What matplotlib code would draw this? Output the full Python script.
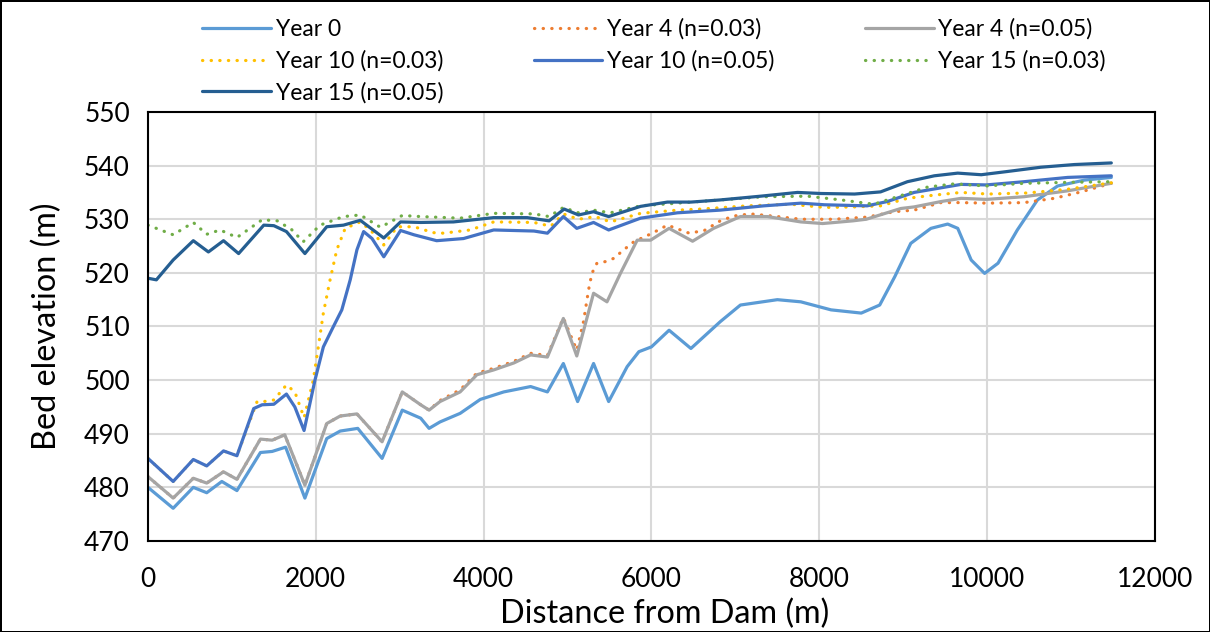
import matplotlib
matplotlib.use('Agg')
import matplotlib.pyplot as plt

plt.rcParams['font.family'] = ['Lato', 'DejaVu Sans']

# Year 0
x0 = [0, 300, 540, 700, 880, 1060, 1340, 1480, 1640, 1870, 2130, 2290, 2500, 2790, 3030, 3250,
      3350, 3480, 3720, 3960, 4240, 4560, 4760, 4950, 5120, 5310, 5490, 5710, 5850, 6000, 6210,
      6470, 6820, 7060, 7500, 7780, 8140, 8500, 8720, 8900, 9090, 9330, 9530, 9650, 9810, 9970,
      10130, 10360, 10600, 10840, 11160, 11480]
y0 = [480.0, 476.1, 480.0, 479.0, 481.1, 479.4, 486.5, 486.7, 487.5, 478.0, 489.1, 490.5, 491.0,
      485.4, 494.4, 492.9, 491.0, 492.2, 493.8, 496.4, 497.8, 498.8, 497.8, 503.1, 496.0, 503.1,
      496.0, 502.5, 505.3, 506.2, 509.3, 505.9, 510.9, 514.0, 515.0, 514.6, 513.1, 512.5, 514.0,
      519.3, 525.5, 528.3, 529.1, 528.3, 522.4, 519.9, 521.8, 528.0, 533.6, 536.2, 537.3, 537.8]

# Year 4 (n=0.03)
x4a = [0, 300, 540, 700, 900, 1060, 1340, 1480, 1630, 1870, 2130, 2290, 2490, 2790, 3030, 3250,
       3350, 3480, 3720, 3920, 4120, 4360, 4560, 4760, 4950, 5110, 5190, 5250, 5290, 5350, 5450,
       5550, 5670, 5790, 6010, 6190, 6450, 6630, 6820, 6980, 7180, 7500, 7780, 8180, 8570, 8890,
       9130, 9450, 9690, 10010, 10440, 10800, 11120, 11480]
y4a = [482.0, 478.0, 481.7, 480.8, 482.9, 481.5, 489.0, 488.8, 489.8, 480.4, 491.9, 493.3, 493.7,
       488.5, 497.8, 495.4, 494.4, 496.2, 498.2, 501.3, 502.2, 503.5, 505.0, 504.6, 511.6, 505.6,
       510.9, 516.8, 519.9, 521.8, 522.1, 522.7, 524.3, 525.8, 527.4, 528.9, 527.4, 527.9, 529.7,
       530.6, 531.0, 530.5, 530.0, 530.0, 530.4, 531.4, 531.7, 533.1, 533.1, 533.0, 533.1, 533.9,
       535.1, 536.7]

# Year 4 (n=0.05)
x4b = [0, 300, 540, 700, 900, 1060, 1340, 1480, 1630, 1870, 2130, 2290, 2490, 2790, 3030, 3250,
       3350, 3480, 3720, 3920, 4120, 4360, 4560, 4760, 4950, 5110, 5310, 5470, 5630, 5830, 5990,
       6210, 6490, 6740, 7060, 7380, 7780, 8040, 8400, 8560, 8970, 9130, 9450, 9690, 9990, 10440,
       10960, 11480]
y4b = [482.0, 478.0, 481.7, 480.8, 482.9, 481.5, 489.0, 488.8, 489.8, 480.4, 491.9, 493.3, 493.7,
       488.5, 497.8, 495.4, 494.4, 496.0, 497.8, 501.0, 501.9, 503.2, 504.7, 504.3, 511.5, 504.5,
       516.2, 514.6, 519.9, 526.1, 526.1, 528.3, 525.9, 528.3, 530.5, 530.5, 529.5, 529.2, 529.7,
       530.0, 532.0, 532.3, 533.3, 533.9, 533.7, 534.2, 535.3, 536.7]

# Year 10 (n=0.03)
x10a = [0, 300, 540, 700, 900, 1060, 1300, 1380, 1500, 1650, 1750, 1860, 1970, 2030, 2090, 2170,
        2250, 2350, 2530, 2650, 2810, 2970, 3170, 3400, 3520, 3840, 4120, 4600, 4800, 4950, 5130,
        5330, 5510, 5870, 6310, 6590, 7140, 7660, 8060, 8420, 8730, 9050, 9370, 9690, 10010,
        10480, 10960, 11480]
y10a = [485.4, 481.1, 485.2, 484.0, 486.8, 485.9, 496.0, 496.0, 496.3, 499.1, 497.8, 493.0, 500.0,
        506.2, 512.5, 518.7, 524.3, 528.3, 529.5, 528.0, 525.2, 528.6, 528.6, 527.5, 527.4, 528.0,
        529.5, 529.4, 528.7, 531.0, 530.0, 530.5, 529.5, 531.1, 531.7, 531.9, 532.5, 532.8, 532.2,
        532.3, 532.5, 533.9, 534.5, 535.0, 534.7, 534.9, 535.6, 536.8]

# Year 10 (n=0.05)
x10b = [0, 300, 540, 700, 900, 1060, 1260, 1360, 1500, 1650, 1750, 1860, 1990, 2090, 2210, 2310,
        2410, 2490, 2570, 2670, 2810, 3010, 3170, 3440, 3760, 4120, 4600, 4760, 4950, 5110, 5310,
        5490, 5870, 6310, 6820, 7340, 7780, 8060, 8570, 8810, 9130, 9690, 9990, 10440, 10960, 11480]
y10b = [485.4, 481.1, 485.2, 484.0, 486.8, 485.9, 494.7, 495.4, 495.5, 497.4, 495.0, 490.6, 500.0,
        506.2, 510.0, 513.1, 518.7, 524.3, 527.7, 526.4, 523.0, 527.9, 527.1, 526.0, 526.4, 528.0,
        527.8, 527.4, 530.5, 528.3, 529.4, 528.0, 530.2, 531.2, 531.7, 532.5, 533.0, 532.7, 532.5,
        533.3, 535.0, 536.5, 536.4, 537.0, 537.8, 538.1]

# Year 15 (n=0.03)
x15a = [0, 300, 540, 700, 860, 1060, 1360, 1540, 1710, 1850, 2050, 2330, 2530, 2770, 3030, 3250,
        3720, 4120, 4600, 4780, 4950, 5130, 5310, 5510, 5870, 6310, 6820, 7340, 7860, 8260, 8650,
        8930, 9290, 9610, 9990, 10440, 11040, 11480]
y15a = [528.9, 527.1, 529.4, 527.2, 528.0, 526.6, 529.9, 529.7, 528.1, 525.8, 528.9, 530.5, 530.8,
        528.5, 530.7, 530.5, 530.2, 531.1, 531.0, 530.5, 532.2, 531.2, 531.7, 531.2, 532.5, 533.0,
        533.6, 534.2, 534.3, 533.6, 532.8, 534.2, 536.0, 536.6, 536.2, 536.7, 536.9, 537.0]

# Year 15 (n=0.05)
x15b = [0, 100, 300, 540, 720, 900, 1080, 1380, 1500, 1650, 1870, 2130, 2330, 2530, 2810, 3010,
        3250, 3640, 4120, 4520, 4780, 4960, 5130, 5310, 5490, 5870, 6190, 6470, 6820, 7300, 7740,
        8020, 8420, 8730, 9050, 9370, 9650, 9930, 10240, 10640, 11040, 11480]
y15b = [519.0, 518.7, 522.4, 526.0, 523.9, 526.0, 523.6, 528.9, 528.8, 527.7, 523.6, 528.6, 528.9,
        529.8, 526.5, 529.5, 529.4, 529.5, 530.3, 530.3, 529.7, 531.9, 530.8, 531.4, 530.5, 532.4,
        533.2, 533.2, 533.6, 534.3, 535.0, 534.8, 534.7, 535.1, 537.0, 538.1, 538.6, 538.3, 538.9,
        539.7, 540.2, 540.5]

dots = (0, (0.1, 2.6))
series = [
    (x0, y0, 'Year 0', '#5B9BD5', '-'),
    (x4a, y4a, 'Year 4 (n=0.03)', '#ED7D31', dots),
    (x4b, y4b, 'Year 4 (n=0.05)', '#A5A5A5', '-'),
    (x10a, y10a, 'Year 10 (n=0.03)', '#FFC000', dots),
    (x10b, y10b, 'Year 10 (n=0.05)', '#4472C4', '-'),
    (x15a, y15a, 'Year 15 (n=0.03)', '#70AD47', dots),
    (x15b, y15b, 'Year 15 (n=0.05)', '#255E91', '-'),
]

fig = plt.figure(figsize=(12.1, 6.32), dpi=100)
fig.patch.set_edgecolor('black')
fig.patch.set_linewidth(2)
ax = fig.add_axes([0.1223, 0.144, 0.8322, 0.6788])

lines = []
for x, y, name, color, ls in series:
    ln, = ax.plot(x, y, color=color, linestyle=ls, linewidth=2.3, label=name,
                  solid_capstyle='round', dash_capstyle='round', solid_joinstyle='round')
    lines.append(ln)

ax.set_xlim(0, 12000)
ax.set_ylim(470, 550)
ax.set_xticks(range(0, 12001, 2000))
ax.set_yticks(range(470, 551, 10))
ax.grid(True, color='#D9D9D9', linewidth=1.5)
ax.set_axisbelow(True)
for s in ax.spines.values():
    s.set_color('black')
    s.set_linewidth(1.5)
ax.tick_params(length=0, labelsize=19)
ax.tick_params(axis='x', pad=19)
ax.tick_params(axis='y', pad=13)
ax.set_xlabel('Distance from Dam (m)', fontsize=23.3, labelpad=2)
ax.xaxis.set_label_coords(0.513, -0.135)
ax.set_ylabel('Bed elevation (m)', fontsize=23.3, labelpad=16)

# legend reads row by row in the reference; matplotlib fills columns first
order = [0, 3, 6, 1, 4, 2, 5]
fig.legend([lines[i] for i in order], [series[i][2] for i in order],
           loc='upper left', bbox_to_anchor=(0.152, 1.0), ncol=3, frameon=False,
           fontsize=16.5, handlelength=3.0, columnspacing=3.95, labelspacing=0.45,
           handletextpad=0.2, borderpad=0.3)

fig.savefig('out.png', dpi=100)
